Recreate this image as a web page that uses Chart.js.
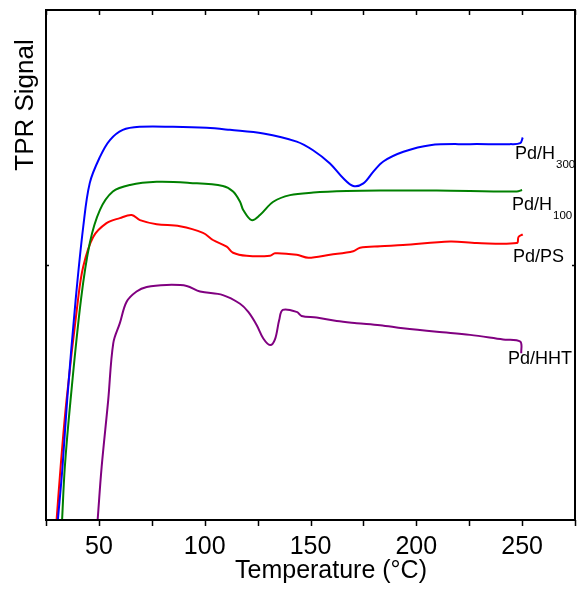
<!DOCTYPE html>
<html>
<head>
<meta charset="utf-8">
<script src="https://cdn.jsdelivr.net/npm/chart.js@4"></script>
<style>
  html, body { margin: 0; padding: 0; background: #fff; }
  #wrap { width: 577px; height: 590px; position: relative; }
</style>
</head>
<body>
<div id="wrap"><canvas id="c" width="577" height="590"></canvas></div>
<script>
// ---- Data ----
const xTicks = [25, 50, 75, 100, 125, 150, 175, 200, 225, 250, 275];
const xLabels = [50, 100, 150, 200, 250];

const tempH300 = [30.6, 32.8, 35.0, 39.0, 42.6, 45.7, 50.5, 55.2, 61.3, 69.4, 85.0, 100.9, 111.9, 127.7, 143.5, 151.2, 159.2, 165.5, 170.2, 175.0, 179.7, 184.4, 193.9, 206.5, 225.4, 244.3, 249.1, 250.3];
const sigH300  = [0, 10.4, 23.5, 43.1, 57.5, 66.1, 71.2, 74.5, 76.5, 77.1, 77.1, 76.9, 76.5, 75.8, 74.2, 72.5, 69.9, 67.0, 65.5, 66.0, 68.3, 70.3, 72.2, 73.5, 73.7, 73.7, 73.9, 75.0];

const tempH100 = [32.6, 33.9, 36.6, 41.5, 45.7, 50.5, 56.6, 64.7, 77.3, 93.0, 108.6, 113.4, 116.7, 118.2, 122.2, 126.1, 132.4, 140.3, 151.3, 167.1, 182.9, 209.7, 247.5, 250.0];
const sigH100  = [0, 10.4, 23.5, 43.1, 54.3, 60.8, 64.4, 65.7, 66.3, 66.1, 65.5, 64.4, 62.4, 60.8, 58.8, 59.8, 62.4, 63.7, 64.2, 64.5, 64.6, 64.6, 64.4, 64.7];

const tempPS = [30.0, 31.9, 34.7, 40.1, 42.6, 47.3, 53.6, 59.9, 65.5, 69.4, 77.3, 88.3, 99.2, 103.9, 110.4, 113.4, 119.8, 130.9, 133.2, 143.5, 149.0, 159.2, 170.2, 173.4, 182.9, 193.7, 216.0, 228.6, 247.5, 248.3, 250.3];
const sigPS  = [0, 10.4, 23.5, 43.1, 49.7, 55.5, 58.2, 59.2, 59.8, 58.8, 58.0, 57.6, 56.3, 54.9, 53.6, 52.4, 51.8, 51.8, 52.3, 52.0, 51.4, 52.0, 52.7, 53.4, 53.7, 53.9, 54.6, 54.3, 54.3, 55.5, 56.0];

const tempHHT = [49.4, 51.3, 54.4, 56.8, 59.9, 63.1, 67.8, 72.6, 82.0, 91.5, 97.8, 108.6, 116.7, 120.6, 124.6, 127.7, 130.9, 133.2, 135.2, 136.9, 143.5, 145.8, 152.9, 162.4, 171.8, 182.9, 193.7, 209.7, 225.4, 241.0, 249.1, 249.6];
const sigHHT  = [0, 10.4, 23.5, 34.7, 38.6, 42.8, 44.8, 45.7, 46.1, 45.9, 44.8, 44.1, 42.4, 40.8, 38.2, 35.6, 34.3, 35.4, 39.2, 41.2, 40.8, 40.0, 39.7, 39.0, 38.6, 38.2, 37.6, 36.9, 36.3, 35.4, 35.0, 32.7];

const seriesNames = ['Pd/H300', 'Pd/H100', 'Pd/PS', 'Pd/HHT'];
const seriesColors = ['#0000FF', '#008000', '#FF0000', '#800080'];

function pts(xs, ys) { return xs.map((x, i) => ({ x: x, y: ys[i] })); }

const FONT = '"Liberation Sans", Arial, sans-serif';

const framePlugin = {
  id: 'frame',
  afterDraw(chart) {
    const { ctx, chartArea: a, scales } = chart;
    const sx = scales.x, sy = scales.y;
    ctx.save();
    ctx.strokeStyle = '#000';
    ctx.lineWidth = 2;
    ctx.strokeRect(a.left, a.top, a.right - a.left, a.bottom - a.top);
    ctx.lineWidth = 1.5;
    ctx.beginPath();
    xTicks.forEach(t => {
      const px = Math.round(sx.getPixelForValue(t)) + 0.5;
      ctx.moveTo(px, a.bottom); ctx.lineTo(px, a.bottom + 6);
      ctx.moveTo(px, a.top); ctx.lineTo(px, a.top + 5);
    });
    const py = Math.round(sy.getPixelForValue(50)) + 0.5;
    ctx.moveTo(a.left, py); ctx.lineTo(a.left + 3, py);
    ctx.moveTo(a.right, py); ctx.lineTo(a.right - 3, py);
    ctx.stroke();

    ctx.fillStyle = '#000';
    ctx.font = '25px ' + FONT;
    ctx.textAlign = 'center';
    ctx.textBaseline = 'alphabetic';
    ctx.fillText('Temperature (\u00B0C)', 331, 578);

    ctx.save();
    ctx.translate(33, 105);
    ctx.rotate(-Math.PI / 2);
    ctx.font = '26px ' + FONT;
    ctx.fillText('TPR Signal', 0, 0);
    ctx.restore();

    ctx.textAlign = 'left';
    const lab = (main, sub, x, y) => {
      ctx.font = '18px ' + FONT;
      ctx.fillText(main, x, y);
      if (sub) {
        const w = ctx.measureText(main).width;
        ctx.font = '11.5px ' + FONT;
        ctx.fillText(sub, x + w + 1, y + 9);
      }
    };
    lab('Pd/H', '300', 515, 159);
    lab('Pd/H', '100', 512, 210);
    lab('Pd/PS', null, 513, 262);
    lab('Pd/HHT', null, 508, 364);
    ctx.restore();
  }
};

const ds = [
  pts(tempH300, sigH300),
  pts(tempH100, sigH100),
  pts(tempPS, sigPS),
  pts(tempHHT, sigHHT)
].map((d, i) => ({
  label: seriesNames[i],
  data: d,
  borderColor: seriesColors[i],
  backgroundColor: seriesColors[i],
  borderWidth: 2,
  pointRadius: 0,
  fill: false,
  tension: 0.35
}));

new Chart(document.getElementById('c'), {
  type: 'line',
  data: { datasets: ds },
  options: {
    responsive: false,
    animation: false,
    events: [],
    layout: { padding: { top: 10, right: 2, left: 46, bottom: 0 } },
    plugins: { legend: { display: false }, tooltip: { enabled: false } },
    scales: {
      x: {
        type: 'linear',
        min: 25, max: 275,
        afterBuildTicks: (s) => { s.ticks = xTicks.map(v => ({ value: v })); },
        afterFit: (s) => { s.height = 70; s.paddingLeft = 0; s.paddingRight = 0; },
        grid: { display: false, drawTicks: false },
        border: { display: false },
        ticks: {
          padding: 12,
          color: '#000',
          font: { family: FONT, size: 25 },
          maxRotation: 0,
          autoSkip: false,
          callback: (v) => xLabels.includes(v) ? String(v) : ''
        }
      },
      y: {
        display: false,
        min: 0, max: 100
      }
    }
  },
  plugins: [framePlugin]
});
</script>
</body>
</html>
